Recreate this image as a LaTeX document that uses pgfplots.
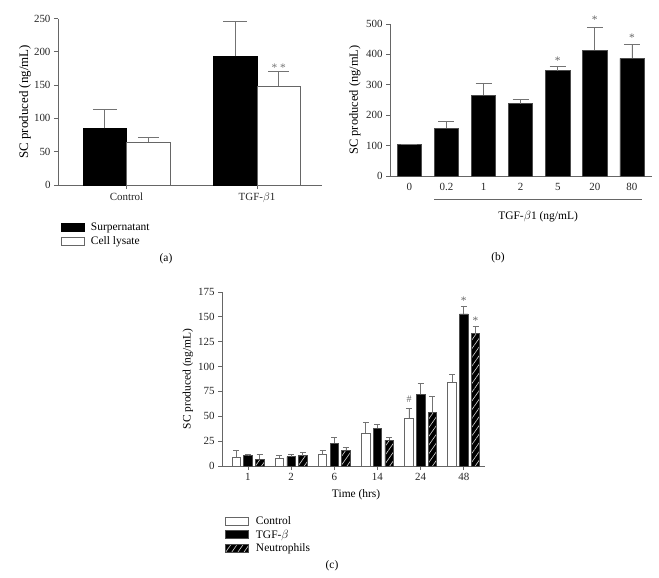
\documentclass[border=0pt]{standalone}
\usepackage{fontspec}
\setmainfont{Liberation Serif}
\usepackage{pgfplots}
\pgfplotsset{compat=1.18}
\usetikzlibrary{patterns,patterns.meta}

\newcommand{\fnt}{\fontsize{11.5}{13}\selectfont}
\pgfplotsset{
  myaxis/.style={
    scale only axis,
    axis lines*=left,
    axis line style={black!60, line width=0.8bp, -},
    every tick/.style={black!60, line width=0.8bp},
    tick align=outside,
    major tick length=4bp,
    font=\fnt,
    tick label style={font=\fontsize{11}{13}\selectfont, text=black!85},
    /pgf/number format/assume math mode=true,
    clip=false,
    ymin=0,
    error bars/y dir=plus,
    error bars/y explicit,
    error bars/error bar style={black!55, line width=0.8bp},
    legend cell align=left,
  },
  boxlegend/.style={legend image code/.code={\draw[##1] (0bp,-4bp) rectangle (23bp,4bp);}},
}
\tikzset{hatch/.style={fill=black, draw=black!70, postaction={pattern={Lines[angle=55,distance=5bp,line width=0.6bp]}, pattern color=white!85!black}}}

\begin{document}
\begin{tikzpicture}
\path[use as bounding box] (0,0) rectangle (659bp,-578bp);

% ---------------- Panel (a)
\begin{axis}[myaxis,
  at={(58bp,-185bp)}, anchor=south west,
  width=264bp, height=166.5bp,
  ybar=0bp, bar width=43.5bp,
  xmin=-0.525, xmax=1.498, ymax=250,
  ytick={0,50,...,250},
  xtick={0,1}, xticklabels={Control, TGF-$\beta$1},
  ylabel={SC produced (ng/mL)},
  every axis y label/.style={at={(axis description cs:-0.125,0.5)}, rotate=90, anchor=center, font=\fontsize{13}{15}\selectfont},
  boxlegend,
  legend style={draw=none, fill=none, at={(axis description cs:0.0,-0.2)}, anchor=north west,
    font=\fnt, row sep=1bp, /tikz/every odd column/.append style={column sep=4bp}},
]
\addplot[fill=black, draw=black,
  error bars/error mark options={black!55, rotate=90, mark size=12bp, line width=0.8bp}]
  coordinates {(0,85) +- (0,28) (1,193) +- (0,53)};
\addlegendentry{Surpernatant}
\addplot[fill=white, draw=black!60, line width=0.8bp,
  error bars/error mark options={black!55, rotate=90, mark size=10.5bp, line width=0.8bp}]
  coordinates {(0,64) +- (0,7) (1,148) +- (0,23)};
\addlegendentry{Cell lysate}
\node[text=black!55, font=\fnt] at (axis cs:1.167,176) {* *};
\end{axis}
\node[font=\fnt] at (166bp,-259bp) {(a)};

% ---------------- Panel (b)
\begin{axis}[myaxis,
  at={(390bp,-176bp)}, anchor=south west,
  width=262bp, height=152bp,
  ybar=0bp, bar width=24.3bp,
  xmin=-0.52, xmax=6.54, ymax=500,
  ytick={0,100,...,500},
  xtick={0,...,6}, xticklabels={0,0.2,1,2,5,20,80},
  x tick style={draw=none},
  ylabel={SC produced (ng/mL)},
  every axis y label/.style={at={(axis description cs:-0.134,0.5)}, rotate=90, anchor=center, font=\fontsize{12.5}{14}\selectfont},
]
\addplot[fill=black, draw=black!70, line width=0.6bp,
  error bars/error mark options={black!55, rotate=90, mark size=8bp, line width=0.8bp}]
  coordinates {(0,103) +- (0,2) (1,157) +- (0,23) (2,265) +- (0,41) (3,238) +- (0,15)
               (4,347) +- (0,13) (5,413) +- (0,75) (6,387) +- (0,47)};
\draw[black!60, line width=0.8bp] (axis cs:0.67,-76) -- (axis cs:6.26,-76);
\node[font=\fnt] at (axis cs:3.47,-135) {TGF-$\beta$1 (ng/mL)};
\node[text=black!60, font=\fnt] at (axis cs:4,379) {*};
\node[text=black!60, font=\fnt] at (axis cs:5,513) {*};
\node[text=black!60, font=\fnt] at (axis cs:6,455) {*};
\end{axis}
\node[font=\fnt] at (498bp,-258bp) {(b)};

% ---------------- Panel (c)
\begin{axis}[myaxis,
  at={(222bp,-466bp)}, anchor=south west,
  width=263bp, height=174bp,
  ybar=3.2bp, bar width=8.5bp,
  xmin=-0.6, xmax=5.49, ymax=175,
  ytick={0,25,...,175},
  xtick={0,...,5}, xticklabels={1,2,6,14,24,48},
  ylabel={SC produced (ng/mL)},
  every axis y label/.style={at={(axis description cs:-0.13,0.5)}, rotate=90, anchor=center},
  xlabel={Time (hrs)},
  every axis x label/.style={at={(axis description cs:0.51,-0.167)}, anchor=center},
  boxlegend,
  legend style={draw=none, fill=none, at={(axis description cs:0.0,-0.265)}, anchor=north west,
    font=\fnt, row sep=0bp, /tikz/every odd column/.append style={column sep=5bp}},
  error bars/error mark options={black!55, rotate=90, mark size=3bp, line width=0.8bp},
]
\addplot[fill=white, draw=black!60, line width=0.8bp]
  coordinates {(0,9) +- (0,7) (1,8) +- (0,3) (2,11.5) +- (0,4) (3,33) +- (0,11) (4,48) +- (0,10) (5,84) +- (0,8)};
\addlegendentry{Control}
\addplot[fill=black, draw=black!70, line width=0.6bp]
  coordinates {(0,10.5) +- (0,0.8) (1,9.5) +- (0,2.5) (2,23) +- (0,6) (3,38) +- (0,4) (4,72) +- (0,11) (5,153) +- (0,8)};
\addlegendentry{TGF-$\beta$}
\addplot[hatch, line width=0.6bp]
  coordinates {(0,7) +- (0,5) (1,10.5) +- (0,3.5) (2,16) +- (0,3) (3,26) +- (0,3) (4,53.7) +- (0,16) (5,133) +- (0,7)};
\addlegendentry{Neutrophils}
\node[text=black!60, font=\fontsize{10}{11}\selectfont] at (axis cs:3.73,67) {\#};
\node[text=black!60, font=\fnt] at (axis cs:5,166) {*};
\node[text=black!60, font=\fnt] at (axis cs:5.27,146) {*};
\end{axis}
\node[font=\fnt] at (332bp,-566bp) {(c)};
\end{tikzpicture}
\end{document}
